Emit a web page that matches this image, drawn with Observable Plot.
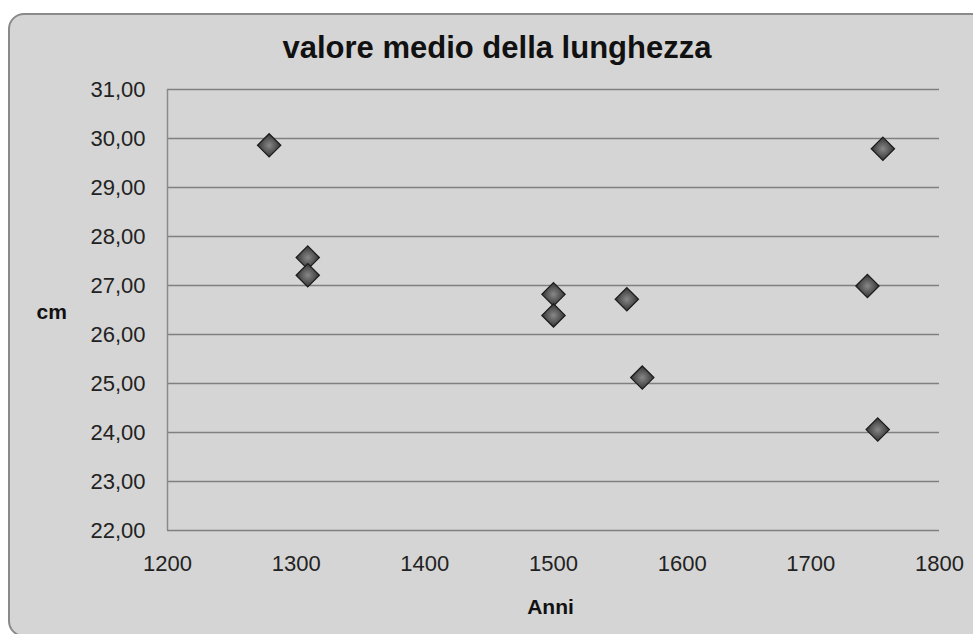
<!DOCTYPE html>
<html>
<head>
<meta charset="utf-8">
<script src="https://cdn.jsdelivr.net/npm/d3@7"></script>
<script src="https://cdn.jsdelivr.net/npm/@observablehq/plot@0.6"></script>
<style>
  html, body { margin: 0; padding: 0; background: #fff; width: 973px; height: 634px; overflow: hidden; }
  #frame {
    position: absolute; left: 8px; top: 13px; width: 985px; height: 624px;
    box-sizing: border-box; border: 2px solid #8a8a8a; border-radius: 16px;
    background: #d5d5d5;
  }
  #chart { position: absolute; left: 0; top: 0; }
  #title {
    position: absolute; left: 0; width: 994px; top: 30px; text-align: center;
    font: bold 31px "Liberation Sans", Arial, sans-serif; color: #111;
  }
</style>
</head>
<body>
<div id="frame"></div>
<div id="title">valore medio della lunghezza</div>
<div id="chart"></div>
<script>
const years  = [1279, 1309, 1309, 1500, 1500, 1557, 1569, 1744, 1752, 1756];
const values = [29.86, 27.57, 27.21, 26.82, 26.39, 26.72, 25.12, 26.99, 24.06, 29.79];
const xTicks = [1200, 1300, 1400, 1500, 1600, 1700, 1800];
const yTicks = [22, 23, 24, 25, 26, 27, 28, 29, 30, 31];

const data = years.map((y, i) => ({anno: y, cm: values[i]}));
const fmt = d => d.toFixed(2).replace(".", ",");

const plot = Plot.plot({
  width: 973,
  height: 634,
  marginLeft: 167,
  marginRight: 34,
  marginTop: 89,
  marginBottom: 104,
  style: {background: "transparent", fontFamily: "'Liberation Sans', Arial, sans-serif", fontSize: "22px", color: "#222"},
  x: {domain: [1200, 1800], ticks: xTicks, label: null},
  y: {domain: [22, 31], ticks: yTicks, label: null},
  marks: [
    Plot.gridY(yTicks, {stroke: "#808080", strokeOpacity: 1, strokeWidth: 1.5}),
    Plot.ruleX([1200], {stroke: "#8a8a8a", strokeWidth: 1.5}),
    Plot.axisY(yTicks, {tickSize: 0, tickPadding: 22, tickFormat: fmt, fontSize: 22, fill: "#222"}),
    Plot.axisX(xTicks, {tickSize: 0, tickPadding: 25, tickFormat: d => String(d), fontSize: 22, fill: "#222"}),
    Plot.text(["cm"], {frameAnchor: "left", textAnchor: "start", dx: -131, dy: 2, fontWeight: "bold", fontSize: 21, fill: "#111"}),
    Plot.text(["Anni"], {frameAnchor: "bottom", dx: -3, dy: 83, fontWeight: "bold", fontSize: 21, fill: "#111"}),
    Plot.dot(data, {x: "anno", y: "cm", symbol: "diamond2", r: 10.5, fill: "url(#dg)", stroke: "#1a1a1a", strokeWidth: 1.2})
  ]
});

const ns = "http://www.w3.org/2000/svg";
const defs = document.createElementNS(ns, "defs");
defs.innerHTML = `<radialGradient id="dg" cx="50%" cy="50%" r="60%">
  <stop offset="0%" stop-color="#888"/>
  <stop offset="55%" stop-color="#505050"/>
  <stop offset="100%" stop-color="#252525"/>
</radialGradient>`;
plot.insertBefore(defs, plot.firstChild);
document.getElementById("chart").appendChild(plot);
</script>
</body>
</html>
